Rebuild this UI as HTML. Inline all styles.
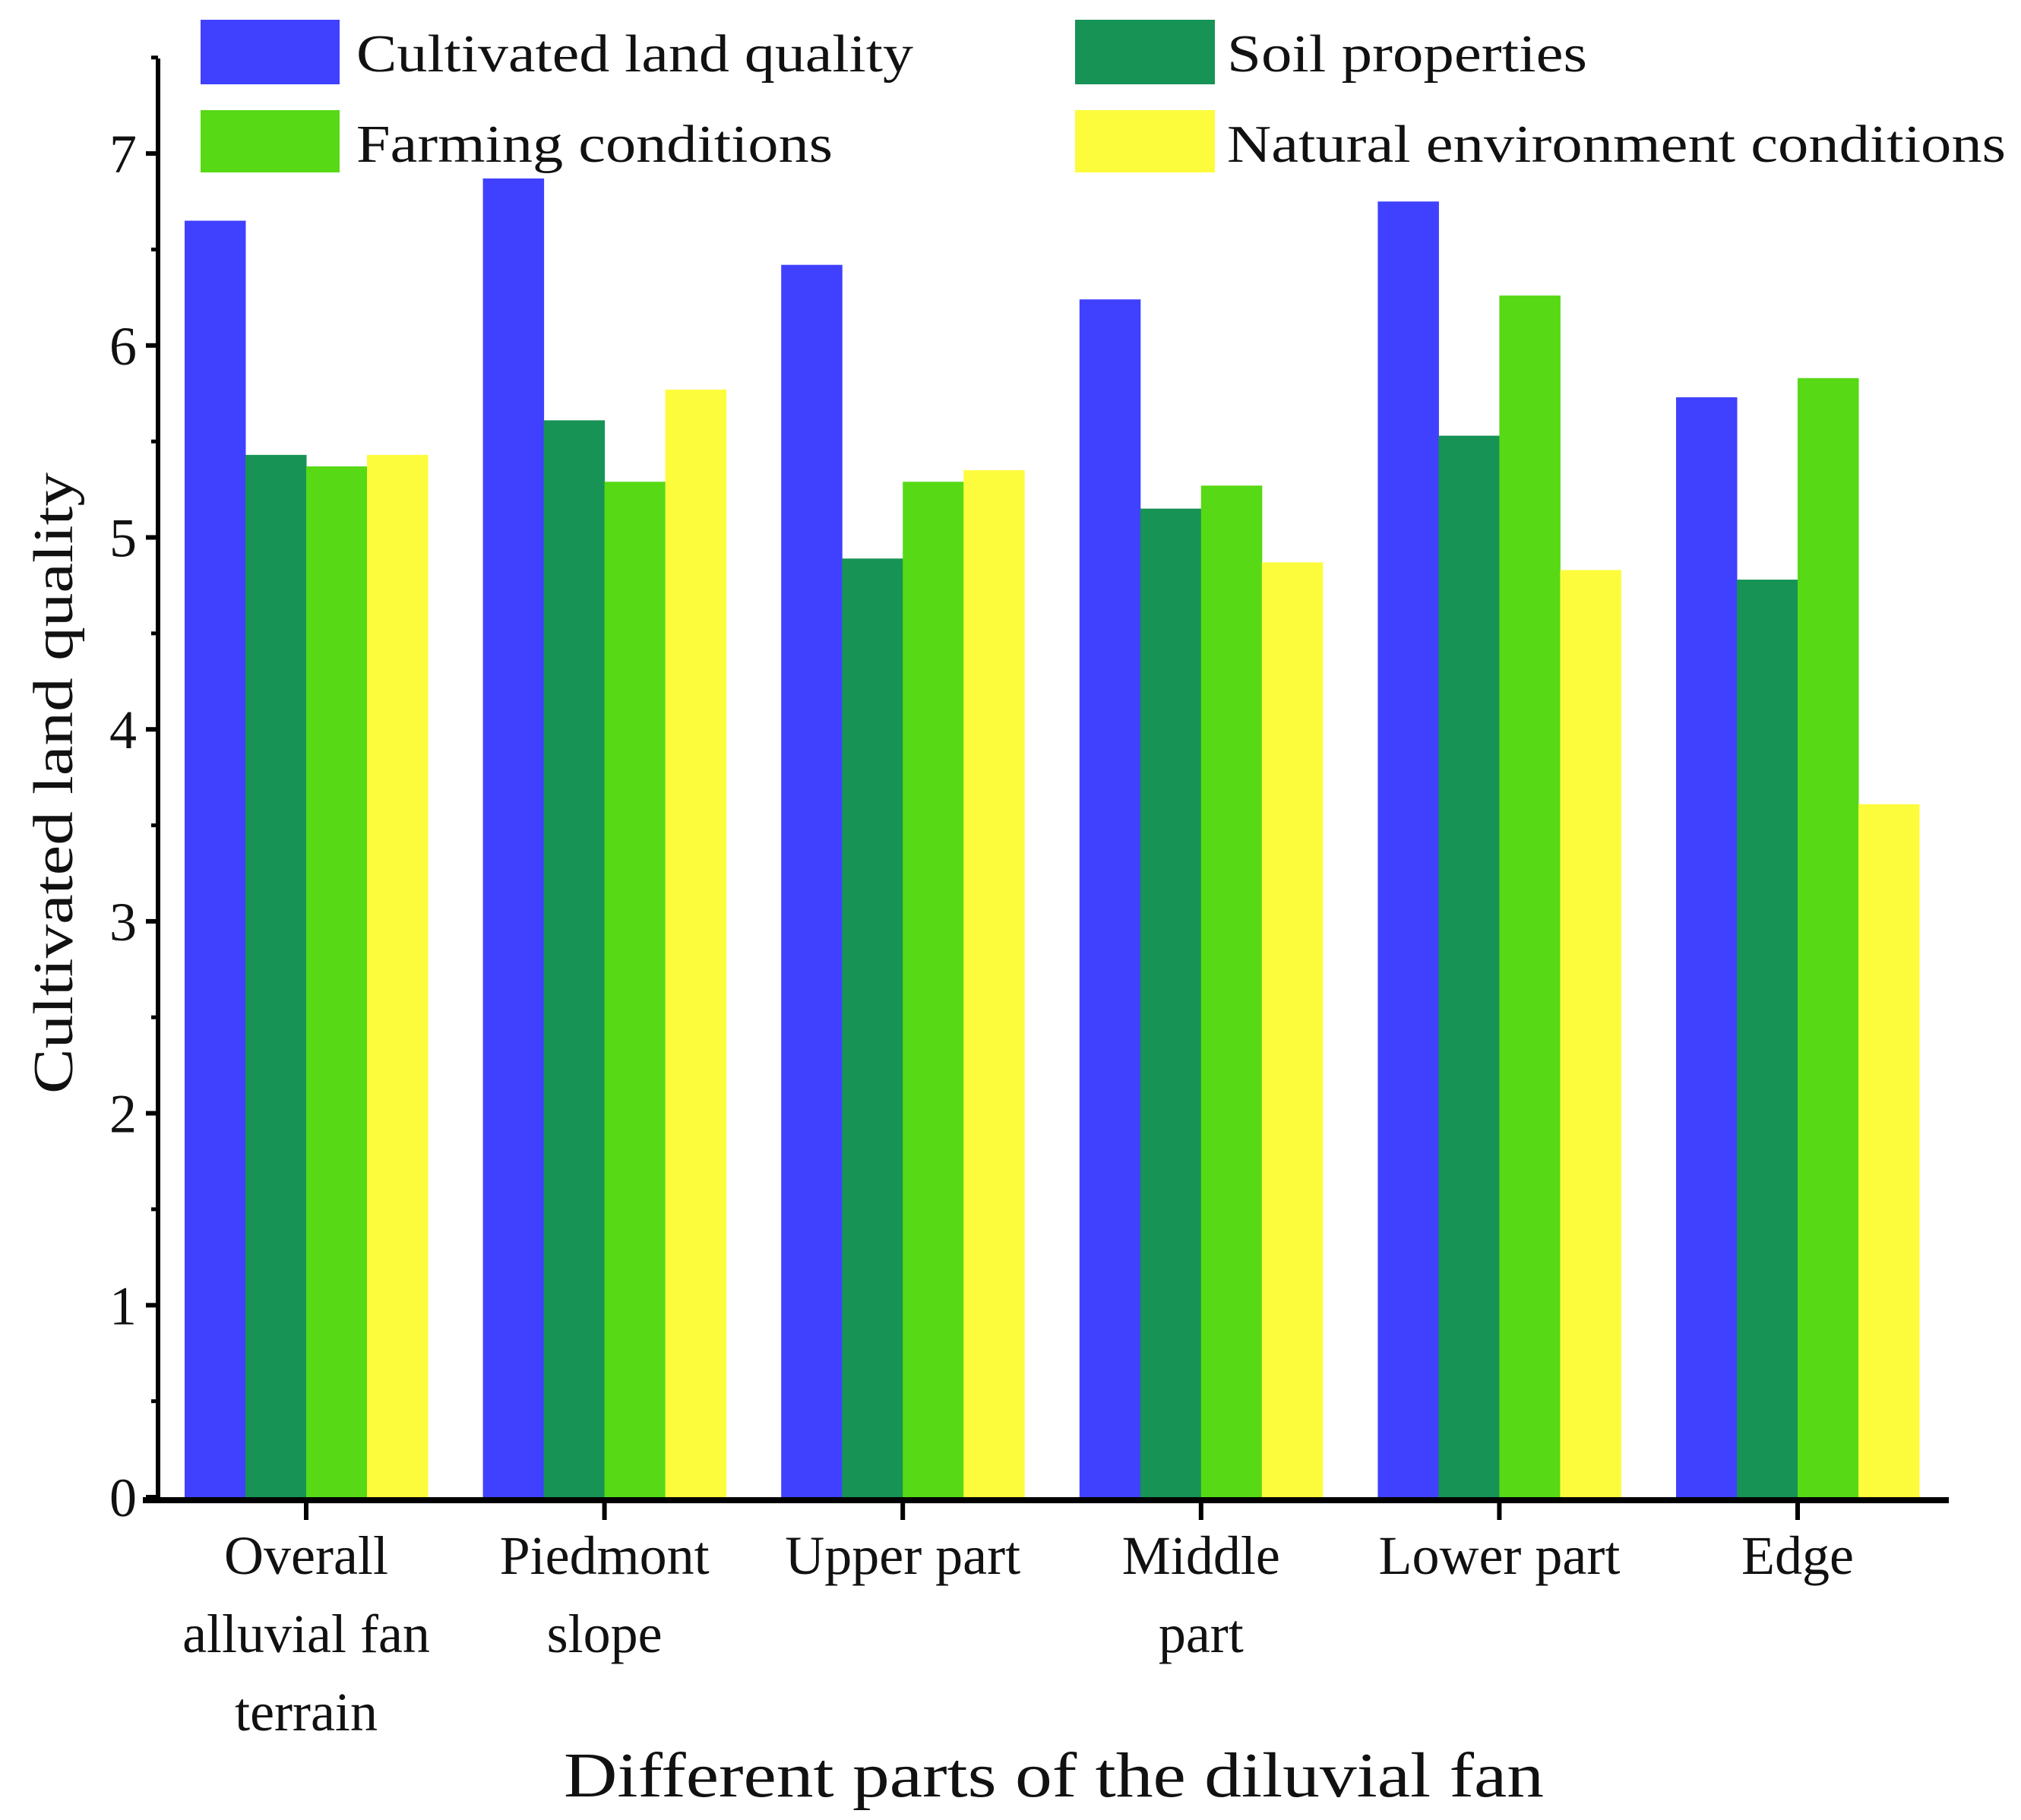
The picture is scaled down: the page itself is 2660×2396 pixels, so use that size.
<!DOCTYPE html>
<html><head><meta charset="utf-8"><style>
html,body{margin:0;padding:0;background:#fff;width:2660px;height:2396px;overflow:hidden}
svg{display:block}
text{font-family:"Liberation Serif",serif;fill:#111}
</style></head><body>
<svg id="chart" width="2660" height="2396" viewBox="0 0 2660 2396" xmlns="http://www.w3.org/2000/svg">
<g id="legend">
<rect x="264" y="26" width="183" height="85" fill="#4040ff"/>
<text x="469" y="94" font-size="70" textLength="733" lengthAdjust="spacingAndGlyphs">Cultivated land quality</text>
<rect x="1415" y="26" width="184" height="85" fill="#169355"/>
<text x="1615" y="94" font-size="70" textLength="474" lengthAdjust="spacingAndGlyphs">Soil properties</text>
<rect x="264" y="145" width="183" height="82" fill="#57d916"/>
<text x="469" y="213" font-size="70" textLength="627" lengthAdjust="spacingAndGlyphs">Farming conditions</text>
<rect x="1415" y="145" width="184" height="82" fill="#fcfc3c"/>
<text x="1615" y="213" font-size="70" textLength="1025" lengthAdjust="spacingAndGlyphs">Natural environment conditions</text>
</g>
<g id="bars"></g>
<g id="axes"></g>
<text font-size="74" text-anchor="middle" transform="translate(95,1031) rotate(-90)" textLength="818" lengthAdjust="spacingAndGlyphs">Cultivated land quality</text>
<text x="1387" y="2365" font-size="84" text-anchor="middle" textLength="1290" lengthAdjust="spacingAndGlyphs">Different parts of the diluvial fan</text>
</svg>
<script>
const categories = [["Overall","alluvial fan","terrain"],["Piedmont","slope"],["Upper part"],["Middle","part"],["Lower part"],["Edge"]];
const cultivated = [6.65, 6.87, 6.42, 6.24, 6.75, 5.73];
const soil = [5.43, 5.61, 4.89, 5.15, 5.53, 4.78];
const farming = [5.37, 5.29, 5.29, 5.27, 6.26, 5.83];
const natural = [5.43, 5.77, 5.35, 4.87, 4.83, 3.61];
const yTicks = [0,1,2,3,4,5,6,7];

const NS = "http://www.w3.org/2000/svg";
const x0 = 208, x1 = 2565, y0 = 1971, unit = 252.7;
const c0 = 403, period = 392.6, barW = 80;
const yS = v => y0 - v * unit;
const xC = i => c0 + i * period;
const series = [[cultivated,"#4040ff","cultivated"],[soil,"#169355","soil"],[farming,"#57d916","farming"],[natural,"#fcfc3c","natural"]];
function mk(tag, attrs, parent){ const e=document.createElementNS(NS,tag); for(const k in attrs) e.setAttribute(k,attrs[k]); parent.appendChild(e); return e; }
const bars = document.getElementById('bars'), axes = document.getElementById('axes');
series.forEach((s, si) => {
  s[0].forEach((v, i) => {
    const r = mk('rect', {x: xC(i) - 2*barW + si*barW, y: yS(v), width: barW + 0.5, height: yS(0) - yS(v), fill: s[1]}, bars);
    
    
  });
});
let l = mk('line', {x1: x0, y1: 77, x2: x0, y2: y0 + 5, stroke: '#000', 'stroke-width': 6}, axes);


l = mk('line', {x1: x0 - 20, y1: y0 + 4, x2: x1, y2: y0 + 4, stroke: '#000', 'stroke-width': 8}, axes);


yTicks.forEach(t => {
  const tk = mk('line', {x1: x0 - 16, y1: yS(t), x2: x0, y2: yS(t), stroke: '#000', 'stroke-width': 6}, axes);
  
  
  const mn = mk('line', {x1: x0 - 9, y1: yS(t + 0.5), x2: x0, y2: yS(t + 0.5), stroke: '#000', 'stroke-width': 5}, axes);
  
  
  const tx = mk('text', {x: 180, y: yS(t) + 25, 'font-size': 72, 'text-anchor': 'end'}, axes);
  tx.textContent = t;
  
  
});
categories.forEach((lines, i) => {
  const tk = mk('line', {x1: xC(i), y1: y0 + 4, x2: xC(i), y2: y0 + 30, stroke: '#000', 'stroke-width': 6}, axes);
  
  
  lines.forEach((ln, j) => {
    const tx = mk('text', {x: xC(i), y: 2072 + j * 103, 'font-size': 72, 'text-anchor': 'middle'}, axes);
    tx.textContent = ln;
    
    
  });
});
</script>
</body></html>
